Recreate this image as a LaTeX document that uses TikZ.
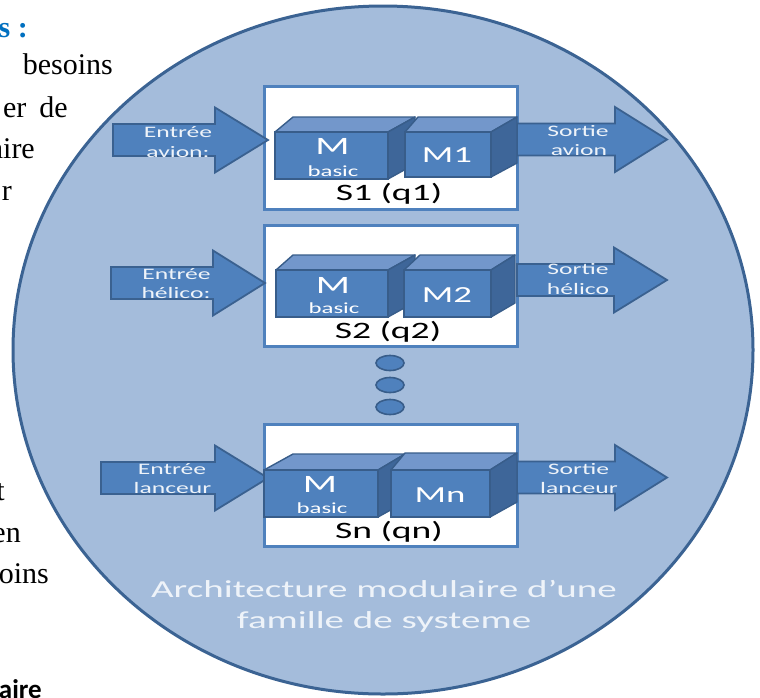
\documentclass[tikz,border=0pt]{standalone}
\usepackage{fontspec}
\setmainfont{Liberation Serif}
\newfontfamily\diagfont[FakeStretch=1.6]{Carlito}
\newfontfamily\calibfont{Carlito}
\usetikzlibrary{shapes.geometric}
\definecolor{ellfill}{HTML}{A4BCDB}
\definecolor{ellline}{HTML}{3B6393}
\definecolor{boxline}{HTML}{4F81BD}
\definecolor{arrfill}{HTML}{4F81BD}
\definecolor{arrline}{HTML}{3A6190}
\definecolor{cfront}{HTML}{4F81BD}
\definecolor{ctop}{HTML}{7397CB}
\definecolor{cside}{HTML}{3E6699}
\definecolor{cline}{HTML}{385D8A}
\definecolor{lbltxt}{HTML}{EEF3F9}
\definecolor{headblue}{HTML}{0070C0}
\tikzset{
  ellbg/.style={fill=ellfill, draw=ellline, line width=3pt},
  sysbox/.style={fill=white, draw=boxline, line width=3pt},
  blockarr/.style={fill=arrfill, draw=arrline, line width=1.8pt, line join=miter},
  cubefront/.style={fill=cfront, draw=cline, line width=1.4pt},
  cubetop/.style={fill=ctop, draw=cline, line width=1.4pt, line join=round},
  cubeside/.style={fill=cside, draw=cline, line width=1.4pt, line join=round},
  dotnode/.style={ellipse, fill=cfront, draw=cline, line width=1.6pt, minimum width=28pt, minimum height=15pt, inner sep=0pt},
  arrlbl/.style={font=\diagfont\fontsize{16}{18}\selectfont, text=lbltxt, inner sep=0pt, anchor=base},
  bigM/.style={font=\diagfont\fontsize{25}{28}\selectfont, text=white, inner sep=0pt, anchor=base},
  basiclbl/.style={font=\diagfont\fontsize{15.5}{18}\selectfont, text=white, inner sep=0pt, anchor=base},
  modlbl/.style={font=\diagfont\fontsize{23}{26}\selectfont, text=white, inner sep=0pt, anchor=base},
  syslbl/.style={font=\diagfont\fontsize{23.5}{26}\selectfont, text=black, inner sep=0pt, anchor=base},
  bottomlbl/.style={font=\diagfont\fontsize{24.4}{28}\selectfont, text=lbltxt, inner sep=0pt, anchor=base},
  doctxt/.style={font=\fontsize{30}{36}\selectfont, text=black, inner sep=0pt, anchor=base east},
}
\newcommand{\blockarrow}[4]{%
  \draw[blockarr] (#1,#4-16) -- (#2,#4-16) -- (#2,#4-32.5) -- (#3,#4)
    -- (#2,#4+32.5) -- (#2,#4+16) -- (#1,#4+16) -- cycle;}
% #1 front-left x, #2 front-right x, #3 back-left x, #4 back-right x,
% #5 top y, #6 front-top y, #7 bottom y, #8 side bottom-back y
\newcommand{\cubeshape}[8]{%
  \draw[cubetop] (#1,#6) -- (#3,#5) -- (#4,#5) -- (#2,#6) -- cycle;
  \draw[cubeside] (#2,#6) -- (#4,#5) -- (#4,#8) -- (#2,#7) -- cycle;
  \draw[cubefront] (#1,#6) rectangle (#2,#7);}
\begin{document}
\begin{tikzpicture}[x=1pt, y=-1pt]
\useasboundingbox (0,0) rectangle (760,697);
\clip (0,0) rectangle (760,697);
\fill[white] (0,0) rectangle (760,697);

% document text on the left (cut by the picture edge, as in the reference)
\node[doctxt, text=headblue, font=\bfseries\fontsize{30}{36}\selectfont] (t0) at (28,37) {s :};
\node[doctxt] (t1) at (113,74) {besoins};
\node[doctxt] (t2) at (68,117) {er\hskip 13pt de};
\node[doctxt] (t3) at (35,158) {aire};
\node[doctxt] (t4) at (12,200) {r};
\node[doctxt] (t5) at (5,500) {t};
\node[doctxt] (t6) at (21,542) {en};
\node[doctxt] (t7) at (49,583) {oins};
\node[doctxt, font=\calibfont\bfseries\fontsize{27}{32}\selectfont] (t8) at (42,698) {aire};

% big ellipse
\draw[ellbg] (383,350) ellipse [x radius=370, y radius=344];

% system boxes
\draw[sysbox] (264,86) rectangle (517,209);
\draw[sysbox] (264,225) rectangle (517,346);
\draw[sysbox] (264,424) rectangle (517,546);

% input arrows
\blockarrow{113}{215}{268}{140}
\blockarrow{111}{213}{265}{283}
\blockarrow{101}{215}{268}{478}
% output arrows
\blockarrow{517}{615}{667}{139.5}
\blockarrow{517}{614}{667}{280}
\blockarrow{517}{615}{667}{477.5}

% cubes
\cubeshape{275}{388}{293}{415}{117}{132}{179}{164}
\cubeshape{405}{491}{418}{517}{117}{132}{177}{163}
\cubeshape{276}{388}{293}{415}{255}{270}{317}{302}
\cubeshape{404}{491}{420}{515}{255}{270}{317}{303}
\cubeshape{264}{378}{293}{405}{454}{470}{517}{502}
\cubeshape{391}{490}{405}{517}{453}{470}{517}{502}

% dots
\node[dotnode] (d1) at (390,363) {};
\node[dotnode] (d2) at (390,385) {};
\node[dotnode] (d3) at (390,407) {};

% arrow labels
\node[arrlbl] (ea1) at (178,137) {Entrée};
\node[arrlbl] (ea2) at (178,157) {avion:};
\node[arrlbl] (eh1) at (176.5,279) {Entrée};
\node[arrlbl] (eh2) at (176,298) {hélico:};
\node[arrlbl] (el1) at (172,474) {Entrée};
\node[arrlbl] (el2) at (172.5,493) {lanceur};
\node[arrlbl] (sa1) at (578,136) {Sortie};
\node[arrlbl] (sa2) at (579,155) {avion};
\node[arrlbl] (sh1) at (578,274) {Sortie};
\node[arrlbl] (sh2) at (578,294) {hélico};
\node[arrlbl] (sl1) at (578.5,474) {Sortie};
\node[arrlbl] (sl2) at (579,493) {lanceur};

% cube labels
\node[bigM] (m1) at (332.5,154) {M};
\node[basiclbl] (b1) at (333,176) {basic};
\node[modlbl] (mm1) at (447,162) {M1};
\node[syslbl] (s1) at (389,200) {S1 (q1)};
\node[bigM] (m2) at (333,293) {M};
\node[basiclbl] (b2) at (334,313) {basic};
\node[modlbl] (mm2) at (447,302) {M2};
\node[syslbl] (s2) at (388,338) {S2 (q2)};
\node[bigM] (m3) at (320,492) {M};
\node[basiclbl] (b3) at (322,513) {basic};
\node[modlbl] (mm3) at (440,502) {Mn};
\node[syslbl] (s3) at (389,538) {Sn (qn)};

% caption
\node[bottomlbl] (c1) at (384,597) {Architecture modulaire d’une};
\node[bottomlbl] (c2) at (384,628) {famille de systeme};
\end{tikzpicture}
\end{document}
